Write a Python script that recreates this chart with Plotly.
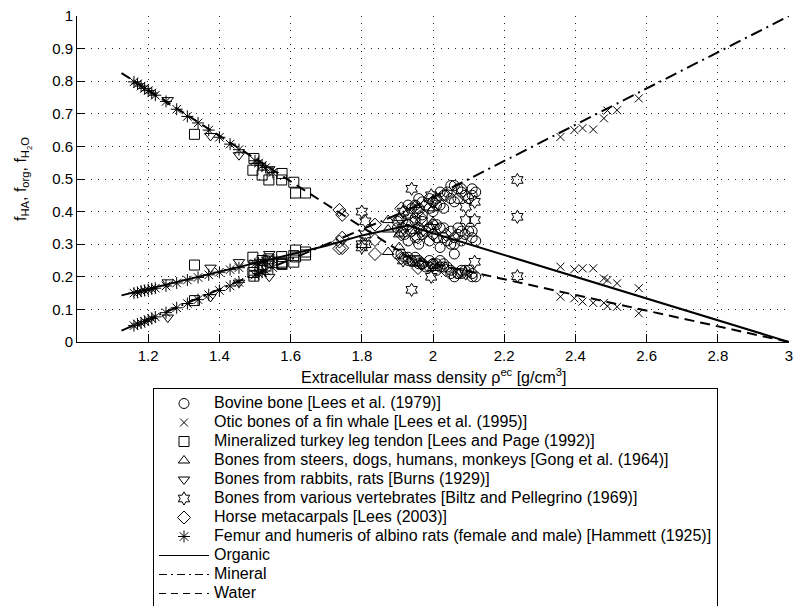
import plotly.graph_objects as go

# ---------------- data ----------------
# Bovine bone [Lees et al. (1979)]
rho_lees79 = [1.90, 1.91, 1.92, 1.93, 1.94, 1.95, 1.96, 1.97, 1.98, 1.99, 2.00, 2.01, 2.02, 2.03,
              2.04, 2.05, 2.06, 2.07, 2.08, 2.09, 2.10, 2.11, 2.12, 2.00, 1.97, 2.03, 2.06,
              1.93, 1.96, 1.99, 2.02, 2.05, 2.08, 2.11, 1.95, 2.01, 2.07]
org_lees79 = [0.35, 0.34, 0.33, 0.36, 0.34, 0.32, 0.35, 0.33, 0.34, 0.31, 0.33, 0.32, 0.35, 0.32,
              0.31, 0.30, 0.32, 0.33, 0.34, 0.33, 0.34, 0.32, 0.31, 0.36, 0.37, 0.35, 0.30,
              0.31, 0.30, 0.35, 0.29, 0.34, 0.31, 0.34, 0.37, 0.36, 0.35]
ha_lees79 = [0.37, 0.38, 0.40, 0.39, 0.41, 0.42, 0.41, 0.43, 0.42, 0.44, 0.43, 0.44, 0.42, 0.45,
             0.46, 0.48, 0.48, 0.47, 0.46, 0.45, 0.44, 0.47, 0.46, 0.40, 0.39, 0.41, 0.43,
             0.42, 0.44, 0.41, 0.46, 0.44, 0.47, 0.45, 0.38, 0.42, 0.44]
h2o_lees79 = [0.27, 0.27, 0.26, 0.25, 0.25, 0.26, 0.24, 0.24, 0.23, 0.25, 0.24, 0.24, 0.23, 0.23,
              0.23, 0.22, 0.20, 0.21, 0.21, 0.22, 0.22, 0.21, 0.20, 0.24, 0.24, 0.24, 0.27,
              0.26, 0.25, 0.23, 0.25, 0.21, 0.22, 0.20, 0.25, 0.22, 0.21]

# Otic bones of a fin whale [Lees et al. (1995)]
rho_lees95 = [2.358, 2.397, 2.42, 2.45, 2.48, 2.49, 2.517, 2.578]
org_lees95 = [0.231, 0.223, 0.226, 0.226, 0.195, 0.19, 0.18, 0.165]
ha_lees95 = [0.629, 0.65, 0.656, 0.652, 0.686, 0.71, 0.711, 0.747]
h2o_lees95 = [0.139, 0.134, 0.124, 0.12, 0.12, 0.11, 0.108, 0.088]

# Mineralized turkey leg tendon [Lees and Page (1992)]
rho_lp92 = [1.33, 1.497, 1.494, 1.52, 1.539, 1.576, 1.575, 1.609, 1.614, 1.642]
org_lp92 = [0.236, 0.235, 0.26, 0.25, 0.255, 0.245, 0.262, 0.265, 0.282, 0.267]
ha_lp92 = [0.127, 0.202, 0.213, 0.238, 0.248, 0.238, 0.241, 0.245, 0.261, 0.276]
h2o_lp92 = [0.637, 0.563, 0.527, 0.512, 0.497, 0.517, 0.497, 0.49, 0.457, 0.457]

# Bones from steers, dogs, humans, monkeys [Gong et al. (1964)]
rho_gong = [1.874, 1.905, 1.95, 2.0]
org_gong = [0.345, 0.33, 0.34, 0.368]
ha_gong = [0.374, 0.38, 0.42, 0.41]
h2o_gong = [0.276, 0.291, 0.24, 0.227]

# Bones from rabbits, rats [Burns (1929)]
rho_burns = [1.255, 1.375, 1.455, 1.54]
org_burns = [0.183, 0.228, 0.245, 0.27]
ha_burns = [0.075, 0.138, 0.182, 0.20]
h2o_burns = [0.742, 0.632, 0.573, 0.53]

# Bones from various vertebrates [Biltz and Pellegrino (1969)]
rho_biltz = [1.80, 1.81, 1.916, 1.94, 1.995, 2.092, 2.117, 2.237]
org_biltz = [0.30, 0.33, 0.35, 0.37, 0.35, 0.374, 0.374, 0.384]
ha_biltz = [0.40, 0.37, 0.40, 0.47, 0.45, 0.415, 0.43, 0.497]
h2o_biltz = [0.29, 0.30, 0.25, 0.16, 0.20, 0.21, 0.246, 0.202]

# Horse metacarpals [Lees (2003)]
rho_lees03 = [1.737, 1.745, 1.837, 1.911, 1.958, 1.967, 2.0, 2.036]
org_lees03 = [0.308, 0.288, 0.313, 0.33, 0.32, 0.34, 0.33, 0.33]
ha_lees03 = [0.287, 0.32, 0.36, 0.41, 0.40, 0.38, 0.43, 0.45]
h2o_lees03 = [0.405, 0.39, 0.27, 0.258, 0.227, 0.24, 0.235, 0.22]

# Femur and humeris of albino rats [Hammett (1925)]
rho_ham = [1.16, 1.17, 1.18, 1.19, 1.20, 1.21, 1.22, 1.25, 1.28, 1.31, 1.34, 1.37, 1.40, 1.43,
           1.455, 1.50, 1.51, 1.52, 1.53, 1.55]
org_ham = [0.150, 0.152, 0.156, 0.158, 0.160, 0.163, 0.165, 0.172, 0.181, 0.190, 0.198, 0.206,
           0.214, 0.222, 0.228, 0.240, 0.242, 0.245, 0.248, 0.252]
ha_ham = [0.050, 0.055, 0.058, 0.063, 0.068, 0.072, 0.077, 0.090, 0.105, 0.118, 0.130, 0.145,
          0.158, 0.172, 0.183, 0.205, 0.210, 0.214, 0.218, 0.228]
h2o_ham = [0.798, 0.792, 0.785, 0.778, 0.771, 0.764, 0.757, 0.738, 0.714, 0.692, 0.672, 0.650,
           0.628, 0.607, 0.590, 0.556, 0.549, 0.541, 0.535, 0.520]

# Model curves
model_rho_org = [1.125, 1.3, 1.5, 1.7, 1.8, 1.93, 3.0]
model_org = [0.143, 0.19, 0.242, 0.295, 0.327, 0.357, 0.0]
model_rho_ha = [1.125, 1.93, 3.0]
model_ha = [0.035, 0.405, 1.0]
model_rho_h2o = [1.125, 1.94, 3.0]
model_h2o = [0.825, 0.255, 0.0]

# Axis ticks
x_tickvals = [1.2, 1.4, 1.6, 1.8, 2.0, 2.2, 2.4, 2.6, 2.8, 3.0]
x_ticktext = ["1.2", "1.4", "1.6", "1.8", "2", "2.2", "2.4", "2.6", "2.8", "3"]
y_tickvals = [0, 0.1, 0.2, 0.3, 0.4, 0.5, 0.6, 0.7, 0.8, 0.9, 1.0]
y_ticktext = ["0", "0.1", "0.2", "0.3", "0.4", "0.5", "0.6", "0.7", "0.8", "0.9", "1"]

# ---------------- figure ----------------
FONT = "Liberation Sans"
series = [
    ("Bovine bone [Lees et al. (1979)]", "circle-open",
     rho_lees79, org_lees79, ha_lees79, h2o_lees79),
    ("Otic bones of a fin whale [Lees et al. (1995)]", "x-thin-open",
     rho_lees95, org_lees95, ha_lees95, h2o_lees95),
    ("Mineralized turkey leg tendon [Lees and Page (1992)]", "square-open",
     rho_lp92, org_lp92, ha_lp92, h2o_lp92),
    ("Bones from steers, dogs, humans, monkeys [Gong et al. (1964)]", "triangle-up-open",
     rho_gong, org_gong, ha_gong, h2o_gong),
    ("Bones from rabbits, rats [Burns (1929)]", "triangle-down-open",
     rho_burns, org_burns, ha_burns, h2o_burns),
    ("Bones from various vertebrates [Biltz and Pellegrino (1969)]", "hexagram-open",
     rho_biltz, org_biltz, ha_biltz, h2o_biltz),
    ("Horse metacarpals [Lees (2003)]", "diamond-open",
     rho_lees03, org_lees03, ha_lees03, h2o_lees03),
    ("Femur and humeris of albino rats (female and male) [Hammett (1925)]", "asterisk-open",
     rho_ham, org_ham, ha_ham, h2o_ham),
]
models = [
    ("Organic", model_rho_org, model_org, "solid"),
    ("Mineral", model_rho_ha, model_ha, "12px,5px,2px,5px"),
    ("Water", model_rho_h2o, model_h2o, "10px,6px"),
]

def lab(t):
    return '<span style="font-size:16px">' + t + '</span>'

fig = go.Figure()
for name, sym, rho, org, ha, h2o in series:
    size = 8 if sym == "x-thin-open" else 10
    fig.add_trace(go.Scatter(
        x=list(rho) * 3, y=list(org) + list(ha) + list(h2o),
        mode="markers", name=lab(name),
        marker=dict(symbol=sym, size=size, color="black",
                    line=dict(color="black", width=1)),
    ))

legend_dash = {"solid": "solid", "12px,5px,2px,5px": "8px,4px,2px,4px", "10px,6px": "7px,5px"}
for name, xs, ys, dash in models:
    # curve drawn in the plot (thick) with a thin legend sample
    fig.add_trace(go.Scatter(x=xs, y=ys, mode="lines", name=name, legendgroup=name,
                             showlegend=False, line=dict(color="black", width=2, dash=dash)))
    fig.add_trace(go.Scatter(x=[None], y=[None], mode="lines", name=lab(name), legendgroup=name,
                             line=dict(color="black", width=1.2, dash=legend_dash[dash])))

L, R, T, B = 77, 6, 16, 264
W, H = 795, 606
pw, ph = W - L - R, H - T - B

fig.update_layout(
    width=W, height=H,
    margin=dict(l=L, r=R, t=T, b=B, autoexpand=False),
    paper_bgcolor="white", plot_bgcolor="white",
    font=dict(family=FONT, color="black", size=15),
    showlegend=True,
    legend=dict(
        x=(153 - L) / pw, y=-(388 - (H - B)) / ph, xanchor="left", yanchor="top",
        bgcolor="white", bordercolor="black", borderwidth=1,
        font=dict(family=FONT, size=12, color="black"),
        itemwidth=50, tracegroupgap=0, groupclick="toggleitem",
    ),
    xaxis=dict(
        range=[1, 3], tickvals=x_tickvals, ticktext=x_ticktext,
        ticks="inside", ticklen=8, tickcolor="black",
        showline=True, linecolor="black", linewidth=1,
        showgrid=True, gridcolor="#222", griddash="1px,6px", gridwidth=1,
        zeroline=False, tickfont=dict(size=15), ticklabeloverflow="allow",
    ),
    yaxis=dict(
        range=[0, 1], tickvals=y_tickvals, ticktext=y_ticktext,
        ticks="inside", ticklen=8, tickcolor="black",
        showline=True, linecolor="black", linewidth=1,
        showgrid=True, gridcolor="#222", griddash="1px,6px", gridwidth=1,
        zeroline=False, tickfont=dict(size=15), ticklabeloverflow="allow",
    ),
    annotations=[
        dict(text="Extracellular mass density ρ<sup>ec</sup> [g/cm<sup>3</sup>]",
             xref="paper", yref="paper", x=0.5, y=-(376 - (H - B)) / ph,
             xanchor="center", yanchor="middle", showarrow=False,
             font=dict(size=16, family=FONT)),
        dict(text="f<sub>HA</sub>, f<sub>org</sub>, f<sub>H<sub>2</sub>O</sub>",
             xref="paper", yref="paper", x=-(L - 23) / pw, y=0.5,
             xanchor="center", yanchor="middle", textangle=-90, showarrow=False,
             font=dict(size=16, family=FONT)),
    ],
)

fig.write_html("out.html")
